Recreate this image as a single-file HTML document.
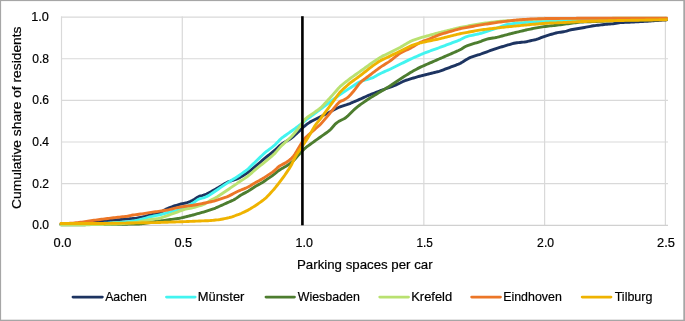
<!DOCTYPE html>
<html><head><meta charset="utf-8"><style>
html,body{margin:0;padding:0;background:#fff;}
body{width:685px;height:321px;overflow:hidden;}
svg{display:block;will-change:transform;}
text{font-family:"Liberation Sans",sans-serif;fill:#000;stroke:#000;stroke-width:0.2px;}
</style></head><body>
<svg width="685" height="321" viewBox="0 0 685 321">
<rect x="0" y="0" width="685" height="321" fill="#fff"/>
<g stroke="#D9D9D9" stroke-width="1.2" fill="none">
<line x1="61" y1="17.10" x2="668" y2="17.10"/>
<line x1="61" y1="58.74" x2="668" y2="58.74"/>
<line x1="61" y1="100.38" x2="668" y2="100.38"/>
<line x1="61" y1="142.02" x2="668" y2="142.02"/>
<line x1="61" y1="183.66" x2="668" y2="183.66"/>
<line x1="61.50" y1="16.5" x2="61.50" y2="225.30"/>
<line x1="182.28" y1="16.5" x2="182.28" y2="225.30"/>
<line x1="303.06" y1="16.5" x2="303.06" y2="225.30"/>
<line x1="423.84" y1="16.5" x2="423.84" y2="225.30"/>
<line x1="544.62" y1="16.5" x2="544.62" y2="225.30"/>
<line x1="665.40" y1="16.5" x2="665.40" y2="225.30"/>
</g>
<line x1="61" y1="225.30" x2="668" y2="225.30" stroke="#D0D0D0" stroke-width="1.3"/>
<g fill="none" stroke-width="2.9" stroke-linejoin="round" stroke-linecap="round">
<polyline points="61.0,224.30 62.5,224.21 64.0,224.13 65.5,224.04 67.0,223.95 68.5,223.87 70.0,223.78 71.5,223.69 73.0,223.61 74.5,223.52 76.0,223.43 77.5,223.34 79.0,223.25 80.5,223.13 82.0,223.00 83.5,222.85 85.0,222.70 86.5,222.55 88.0,222.40 89.5,222.25 91.0,222.10 92.5,221.95 94.0,221.80 95.5,221.65 97.0,221.50 98.5,221.35 100.0,221.21 101.5,221.08 103.0,220.96 104.5,220.84 106.0,220.72 107.5,220.60 109.0,220.48 110.5,220.36 112.0,220.24 113.5,220.12 115.0,220.00 116.5,219.88 118.0,219.76 119.5,219.64 121.0,219.52 122.5,219.40 124.0,219.28 125.5,219.16 127.0,219.04 128.5,218.92 130.0,218.80 131.5,218.67 133.0,218.55 134.5,218.41 136.0,218.24 137.5,217.99 139.0,217.70 140.5,217.40 142.0,217.09 143.5,216.77 145.0,216.40 146.5,215.99 148.0,215.57 149.5,215.18 151.0,214.83 152.5,214.53 154.0,214.24 155.5,213.95 157.0,213.67 158.5,213.34 160.0,212.82 161.5,211.98 163.0,210.98 164.5,210.00 166.0,209.18 167.5,208.51 169.0,207.91 170.5,207.32 172.0,206.75 173.5,206.22 175.0,205.74 176.5,205.28 178.0,204.84 179.5,204.39 181.0,203.98 182.5,203.63 184.0,203.33 185.5,203.00 187.0,202.61 188.5,202.17 190.0,201.62 191.5,200.92 193.0,200.10 194.5,199.22 196.0,198.26 197.5,197.26 199.0,196.41 200.5,195.89 202.0,195.57 203.5,195.21 205.0,194.70 206.5,194.03 208.0,193.29 209.5,192.52 211.0,191.71 212.5,190.88 214.0,190.04 215.5,189.19 217.0,188.31 218.5,187.43 220.0,186.54 221.5,185.65 223.0,184.76 224.5,183.87 226.0,183.00 227.5,182.20 229.0,181.55 230.5,181.01 232.0,180.52 233.5,180.04 235.0,179.56 236.5,179.05 238.0,178.45 239.5,177.67 241.0,176.79 242.5,175.89 244.0,174.99 245.5,174.07 247.0,173.08 248.5,171.97 250.0,170.77 251.5,169.54 253.0,168.30 254.5,167.06 256.0,165.82 257.5,164.55 259.0,163.28 260.5,162.00 262.0,160.72 263.5,159.44 265.0,158.18 266.5,156.95 268.0,155.75 269.5,154.55 271.0,153.35 272.5,152.15 274.0,150.91 275.5,149.59 277.0,148.20 278.5,146.80 280.0,145.45 281.5,144.27 283.0,143.27 284.5,142.35 286.0,141.46 287.5,140.56 289.0,139.66 290.5,138.72 292.0,137.65 293.5,136.40 295.0,135.03 296.5,133.64 298.0,132.25 299.5,130.83 301.0,129.38 302.5,127.92 304.0,126.53 305.5,125.30 307.0,124.18 308.5,123.11 310.0,122.12 311.5,121.27 313.0,120.50 314.5,119.75 316.0,119.00 317.5,118.25 319.0,117.50 320.5,116.75 322.0,116.00 323.5,115.25 325.0,114.50 326.5,113.75 328.0,113.00 329.5,112.22 331.0,111.42 332.5,110.58 334.0,109.74 335.5,108.94 337.0,108.21 338.5,107.53 340.0,106.90 341.5,106.31 343.0,105.81 344.5,105.35 346.0,104.91 347.5,104.43 349.0,103.88 350.5,103.28 352.0,102.64 353.5,102.01 355.0,101.37 356.5,100.72 358.0,100.07 359.5,99.41 361.0,98.75 362.5,98.07 364.0,97.40 365.5,96.73 367.0,96.05 368.5,95.38 370.0,94.74 371.5,94.14 373.0,93.56 374.5,92.99 376.0,92.42 377.5,91.85 379.0,91.28 380.5,90.71 382.0,90.14 383.5,89.57 385.0,89.01 386.5,88.46 388.0,87.92 389.5,87.38 391.0,86.84 392.5,86.30 394.0,85.73 395.5,85.10 397.0,84.41 398.5,83.68 400.0,82.95 401.5,82.22 403.0,81.49 404.5,80.82 406.0,80.25 407.5,79.77 409.0,79.33 410.5,78.89 412.0,78.45 413.5,78.01 415.0,77.57 416.5,77.13 418.0,76.69 419.5,76.26 421.0,75.86 422.5,75.48 424.0,75.10 425.5,74.73 427.0,74.35 428.5,73.98 430.0,73.60 431.5,73.23 433.0,72.85 434.5,72.47 436.0,72.10 437.5,71.72 439.0,71.32 440.5,70.86 442.0,70.34 443.5,69.79 445.0,69.22 446.5,68.66 448.0,68.10 449.5,67.54 451.0,66.97 452.5,66.41 454.0,65.85 455.5,65.29 457.0,64.72 458.5,64.14 460.0,63.46 461.5,62.63 463.0,61.71 464.5,60.76 466.0,59.82 467.5,58.90 469.0,58.08 470.5,57.43 472.0,56.91 473.5,56.43 475.0,55.95 476.5,55.47 478.0,54.99 479.5,54.51 481.0,54.00 482.5,53.47 484.0,52.92 485.5,52.37 487.0,51.82 488.5,51.26 490.0,50.71 491.5,50.16 493.0,49.61 494.5,49.06 496.0,48.54 497.5,48.07 499.0,47.62 500.5,47.18 502.0,46.74 503.5,46.29 505.0,45.85 506.5,45.41 508.0,44.97 509.5,44.53 511.0,44.09 512.5,43.66 514.0,43.27 515.5,42.97 517.0,42.76 518.5,42.60 520.0,42.44 521.5,42.28 523.0,42.12 524.5,41.95 526.0,41.73 527.5,41.45 529.0,41.12 530.5,40.78 532.0,40.44 533.5,40.10 535.0,39.75 536.5,39.34 538.0,38.85 539.5,38.29 541.0,37.72 542.5,37.16 544.0,36.60 545.5,36.08 547.0,35.60 548.5,35.14 550.0,34.69 551.5,34.24 553.0,33.79 554.5,33.36 556.0,32.99 557.5,32.70 559.0,32.44 560.5,32.20 562.0,31.95 563.5,31.70 565.0,31.42 566.5,31.08 568.0,30.65 569.5,30.19 571.0,29.77 572.5,29.45 574.0,29.20 575.5,28.97 577.0,28.74 578.5,28.51 580.0,28.28 581.5,28.04 583.0,27.77 584.5,27.48 586.0,27.19 587.5,26.89 589.0,26.59 590.5,26.30 592.0,26.03 593.5,25.80 595.0,25.61 596.5,25.43 598.0,25.25 599.5,25.07 601.0,24.89 602.5,24.72 604.0,24.54 605.5,24.38 607.0,24.24 608.5,24.12 610.0,24.01 611.5,23.89 613.0,23.72 614.5,23.49 616.0,23.23 617.5,22.96 619.0,22.74 620.5,22.59 622.0,22.51 623.5,22.44 625.0,22.39 626.5,22.33 628.0,22.27 629.5,22.22 631.0,22.16 632.5,22.09 634.0,22.01 635.5,21.92 637.0,21.83 638.5,21.74 640.0,21.65 641.5,21.56 643.0,21.46 644.5,21.37 646.0,21.28 647.5,21.18 649.0,21.07 650.5,20.97 652.0,20.87 653.5,20.76 655.0,20.66 656.5,20.56 658.0,20.46 659.5,20.36 661.0,20.26 662.5,20.16 664.0,20.06 665.5,19.98 666.5,19.90" stroke="#1D3461"/>
<polyline points="61.0,224.50 62.5,224.46 64.0,224.42 65.5,224.38 67.0,224.35 68.5,224.31 70.0,224.27 71.5,224.23 73.0,224.19 74.5,224.15 76.0,224.12 77.5,224.08 79.0,224.04 80.5,224.00 82.0,223.96 83.5,223.92 85.0,223.88 86.5,223.85 88.0,223.81 89.5,223.77 91.0,223.73 92.5,223.69 94.0,223.65 95.5,223.62 97.0,223.58 98.5,223.54 100.0,223.49 101.5,223.42 103.0,223.35 104.5,223.27 106.0,223.20 107.5,223.12 109.0,223.05 110.5,222.97 112.0,222.89 113.5,222.79 115.0,222.67 116.5,222.56 118.0,222.45 119.5,222.34 121.0,222.22 122.5,222.10 124.0,221.98 125.5,221.86 127.0,221.74 128.5,221.61 130.0,221.46 131.5,221.27 133.0,221.05 134.5,220.82 136.0,220.55 137.5,220.22 139.0,219.85 140.5,219.47 142.0,219.10 143.5,218.71 145.0,218.29 146.5,217.85 148.0,217.41 149.5,216.99 151.0,216.62 152.5,216.30 154.0,216.00 155.5,215.70 157.0,215.40 158.5,215.09 160.0,214.76 161.5,214.37 163.0,213.95 164.5,213.53 166.0,213.11 167.5,212.68 169.0,212.26 170.5,211.84 172.0,211.44 173.5,211.09 175.0,210.81 176.5,210.56 178.0,210.29 179.5,209.93 181.0,209.38 182.5,208.66 184.0,207.88 185.5,207.09 187.0,206.29 188.5,205.48 190.0,204.66 191.5,203.82 193.0,202.93 194.5,201.96 196.0,200.90 197.5,199.86 199.0,199.01 200.5,198.49 202.0,198.17 203.5,197.81 205.0,197.30 206.5,196.63 208.0,195.87 209.5,195.03 211.0,194.07 212.5,193.04 214.0,192.00 215.5,190.97 217.0,189.95 218.5,188.93 220.0,187.92 221.5,186.90 223.0,185.88 224.5,184.87 226.0,183.86 227.5,182.86 229.0,181.89 230.5,180.95 232.0,180.02 233.5,179.09 235.0,178.16 236.5,177.22 238.0,176.25 239.5,175.23 241.0,174.17 242.5,173.11 244.0,172.04 245.5,170.96 247.0,169.79 248.5,168.48 250.0,167.06 251.5,165.60 253.0,164.13 254.5,162.67 256.0,161.21 257.5,159.77 259.0,158.33 260.5,156.89 262.0,155.46 263.5,154.04 265.0,152.68 266.5,151.45 268.0,150.29 269.5,149.17 271.0,148.05 272.5,146.92 274.0,145.70 275.5,144.32 277.0,142.76 278.5,141.15 280.0,139.60 281.5,138.23 283.0,137.06 284.5,135.99 286.0,134.94 287.5,133.90 289.0,132.85 290.5,131.80 292.0,130.74 293.5,129.65 295.0,128.56 296.5,127.46 298.0,126.36 299.5,125.22 301.0,124.03 302.5,122.80 304.0,121.56 305.5,120.36 307.0,119.21 308.5,118.09 310.0,116.97 311.5,115.85 313.0,114.73 314.5,113.61 316.0,112.49 317.5,111.37 319.0,110.25 320.5,109.12 322.0,108.00 323.5,106.87 325.0,105.75 326.5,104.63 328.0,103.50 329.5,102.38 331.0,101.25 332.5,100.13 334.0,99.00 335.5,97.88 337.0,96.75 338.5,95.63 340.0,94.55 341.5,93.53 343.0,92.55 344.5,91.58 346.0,90.60 347.5,89.63 349.0,88.65 350.5,87.67 352.0,86.70 353.5,85.72 355.0,84.75 356.5,83.78 358.0,82.82 359.5,81.97 361.0,81.31 362.5,80.81 364.0,80.38 365.5,79.96 367.0,79.54 368.5,79.12 370.0,78.69 371.5,78.20 373.0,77.59 374.5,76.81 376.0,75.95 377.5,75.07 379.0,74.22 380.5,73.44 382.0,72.74 383.5,72.08 385.0,71.43 386.5,70.78 388.0,70.12 389.5,69.45 391.0,68.74 392.5,68.01 394.0,67.27 395.5,66.53 397.0,65.79 398.5,65.04 400.0,64.30 401.5,63.56 403.0,62.83 404.5,62.09 406.0,61.35 407.5,60.62 409.0,59.88 410.5,59.16 412.0,58.47 413.5,57.80 415.0,57.15 416.5,56.49 418.0,55.84 419.5,55.19 421.0,54.53 422.5,53.89 424.0,53.28 425.5,52.69 427.0,52.13 428.5,51.56 430.0,51.01 431.5,50.46 433.0,49.92 434.5,49.38 436.0,48.84 437.5,48.30 439.0,47.76 440.5,47.21 442.0,46.65 443.5,46.09 445.0,45.52 446.5,44.96 448.0,44.40 449.5,43.84 451.0,43.27 452.5,42.71 454.0,42.15 455.5,41.59 457.0,41.02 458.5,40.45 460.0,39.80 461.5,39.06 463.0,38.25 464.5,37.46 466.0,36.78 467.5,36.31 469.0,35.95 470.5,35.63 472.0,35.30 473.5,34.98 475.0,34.65 476.5,34.33 478.0,34.00 479.5,33.66 481.0,33.28 482.5,32.84 484.0,32.37 485.5,31.88 487.0,31.40 488.5,30.92 490.0,30.43 491.5,29.95 493.0,29.47 494.5,28.98 496.0,28.46 497.5,27.91 499.0,27.34 500.5,26.76 502.0,26.18 503.5,25.61 505.0,25.12 506.5,24.75 508.0,24.47 509.5,24.23 511.0,23.99 512.5,23.75 514.0,23.54 515.5,23.35 517.0,23.20 518.5,23.06 520.0,22.93 521.5,22.80 523.0,22.67 524.5,22.54 526.0,22.42 527.5,22.31 529.0,22.22 530.5,22.14 532.0,22.06 533.5,21.98 535.0,21.90 536.5,21.82 538.0,21.75 539.5,21.67 541.0,21.59 542.5,21.52 544.0,21.44 545.5,21.37 547.0,21.31 548.5,21.26 550.0,21.23 551.5,21.20 553.0,21.17 554.5,21.14 556.0,21.10 557.5,21.07 559.0,21.04 560.5,21.01 562.0,20.98 563.5,20.95 565.0,20.92 566.5,20.88 568.0,20.85 569.5,20.82 571.0,20.79 572.5,20.76 574.0,20.73 575.5,20.69 577.0,20.66 578.5,20.63 580.0,20.60 581.5,20.56 583.0,20.52 584.5,20.48 586.0,20.44 587.5,20.39 589.0,20.35 590.5,20.31 592.0,20.27 593.5,20.23 595.0,20.19 596.5,20.15 598.0,20.11 599.5,20.06 601.0,20.02 602.5,19.98 604.0,19.94 605.5,19.90 607.0,19.86 608.5,19.82 610.0,19.77 611.5,19.73 613.0,19.69 614.5,19.65 616.0,19.61 617.5,19.57 619.0,19.53 620.5,19.50 622.0,19.47 623.5,19.45 625.0,19.42 626.5,19.40 628.0,19.38 629.5,19.36 631.0,19.33 632.5,19.31 634.0,19.29 635.5,19.27 637.0,19.24 638.5,19.22 640.0,19.20 641.5,19.18 643.0,19.15 644.5,19.13 646.0,19.11 647.5,19.09 649.0,19.06 650.5,19.04 652.0,19.02 653.5,19.00 655.0,18.97 656.5,18.95 658.0,18.93 659.5,18.91 661.0,18.88 662.5,18.86 664.0,18.84 665.5,18.82 666.5,18.80" stroke="#42F4F0"/>
<polyline points="61.0,224.80 62.5,224.79 64.0,224.78 65.5,224.78 67.0,224.77 68.5,224.76 70.0,224.75 71.5,224.75 73.0,224.74 74.5,224.73 76.0,224.72 77.5,224.72 79.0,224.71 80.5,224.70 82.0,224.69 83.5,224.68 85.0,224.68 86.5,224.67 88.0,224.66 89.5,224.65 91.0,224.65 92.5,224.64 94.0,224.63 95.5,224.62 97.0,224.62 98.5,224.61 100.0,224.59 101.5,224.58 103.0,224.55 104.5,224.53 106.0,224.51 107.5,224.49 109.0,224.47 110.5,224.44 112.0,224.42 113.5,224.40 115.0,224.38 116.5,224.35 118.0,224.33 119.5,224.31 121.0,224.28 122.5,224.26 124.0,224.24 125.5,224.22 127.0,224.20 128.5,224.17 130.0,224.15 131.5,224.13 133.0,224.10 134.5,224.08 136.0,224.06 137.5,224.03 139.0,223.98 140.5,223.87 142.0,223.69 143.5,223.47 145.0,223.25 146.5,223.02 148.0,222.80 149.5,222.56 151.0,222.29 152.5,222.00 154.0,221.72 155.5,221.49 157.0,221.31 158.5,221.15 160.0,220.98 161.5,220.79 163.0,220.58 164.5,220.37 166.0,220.16 167.5,219.95 169.0,219.74 170.5,219.53 172.0,219.32 173.5,219.11 175.0,218.90 176.5,218.69 178.0,218.47 179.5,218.23 181.0,217.93 182.5,217.58 184.0,217.22 185.5,216.85 187.0,216.48 188.5,216.11 190.0,215.74 191.5,215.37 193.0,214.98 194.5,214.57 196.0,214.15 197.5,213.72 199.0,213.30 200.5,212.87 202.0,212.45 203.5,212.02 205.0,211.57 206.5,211.10 208.0,210.61 209.5,210.11 211.0,209.62 212.5,209.12 214.0,208.60 215.5,208.03 217.0,207.39 218.5,206.72 220.0,206.05 221.5,205.38 223.0,204.70 224.5,204.03 226.0,203.35 227.5,202.68 229.0,202.00 230.5,201.32 232.0,200.65 233.5,199.95 235.0,199.14 236.5,198.16 238.0,197.08 239.5,196.00 241.0,195.01 242.5,194.16 244.0,193.38 245.5,192.60 247.0,191.79 248.5,190.90 250.0,189.94 251.5,188.97 253.0,188.00 254.5,187.03 256.0,186.09 257.5,185.21 259.0,184.39 260.5,183.58 262.0,182.71 263.5,181.75 265.0,180.72 266.5,179.68 268.0,178.65 269.5,177.61 271.0,176.57 272.5,175.52 274.0,174.42 275.5,173.19 277.0,171.88 278.5,170.67 280.0,169.67 281.5,168.77 283.0,167.90 284.5,167.03 286.0,166.15 287.5,165.22 289.0,164.21 290.5,163.12 292.0,161.96 293.5,160.65 295.0,159.05 296.5,157.28 298.0,155.57 299.5,153.96 301.0,152.33 302.5,150.67 304.0,149.13 305.5,147.82 307.0,146.68 308.5,145.58 310.0,144.50 311.5,143.41 313.0,142.32 314.5,141.24 316.0,140.15 317.5,139.07 319.0,138.01 320.5,136.95 322.0,135.90 323.5,134.85 325.0,133.80 326.5,132.75 328.0,131.67 329.5,130.45 331.0,128.96 332.5,127.24 334.0,125.47 335.5,123.86 337.0,122.59 338.5,121.60 340.0,120.73 341.5,119.95 343.0,119.26 344.5,118.52 346.0,117.49 347.5,116.17 349.0,114.70 350.5,113.20 352.0,111.71 353.5,110.24 355.0,108.86 356.5,107.59 358.0,106.39 359.5,105.24 361.0,104.15 362.5,103.10 364.0,102.08 365.5,101.06 367.0,100.04 368.5,99.03 370.0,98.04 371.5,97.11 373.0,96.20 374.5,95.30 376.0,94.40 377.5,93.50 379.0,92.60 380.5,91.70 382.0,90.80 383.5,89.90 385.0,89.00 386.5,88.10 388.0,87.19 389.5,86.26 391.0,85.29 392.5,84.27 394.0,83.24 395.5,82.21 397.0,81.18 398.5,80.17 400.0,79.19 401.5,78.23 403.0,77.28 404.5,76.33 406.0,75.39 407.5,74.44 409.0,73.50 410.5,72.57 412.0,71.69 413.5,70.85 415.0,70.03 416.5,69.21 418.0,68.40 419.5,67.62 421.0,66.89 422.5,66.22 424.0,65.56 425.5,64.91 427.0,64.25 428.5,63.60 430.0,62.95 431.5,62.30 433.0,61.65 434.5,60.99 436.0,60.34 437.5,59.69 439.0,59.04 440.5,58.38 442.0,57.73 443.5,57.08 445.0,56.42 446.5,55.77 448.0,55.12 449.5,54.47 451.0,53.81 452.5,53.16 454.0,52.51 455.5,51.86 457.0,51.20 458.5,50.53 460.0,49.79 461.5,48.93 463.0,48.00 464.5,47.08 466.0,46.27 467.5,45.65 469.0,45.15 470.5,44.67 472.0,44.19 473.5,43.72 475.0,43.24 476.5,42.77 478.0,42.29 479.5,41.80 481.0,41.29 482.5,40.73 484.0,40.15 485.5,39.58 487.0,39.10 488.5,38.75 490.0,38.49 491.5,38.27 493.0,38.04 494.5,37.81 496.0,37.54 497.5,37.19 499.0,36.80 500.5,36.40 502.0,36.00 503.5,35.60 505.0,35.20 506.5,34.80 508.0,34.40 509.5,34.00 511.0,33.61 512.5,33.24 514.0,32.88 515.5,32.52 517.0,32.16 518.5,31.80 520.0,31.44 521.5,31.08 523.0,30.72 524.5,30.36 526.0,30.02 527.5,29.69 529.0,29.38 530.5,29.07 532.0,28.75 533.5,28.44 535.0,28.14 536.5,27.85 538.0,27.60 539.5,27.36 541.0,27.14 542.5,26.91 544.0,26.68 545.5,26.46 547.0,26.25 548.5,26.07 550.0,25.91 551.5,25.75 553.0,25.59 554.5,25.44 556.0,25.28 557.5,25.11 559.0,24.92 560.5,24.73 562.0,24.53 563.5,24.33 565.0,24.13 566.5,23.93 568.0,23.73 569.5,23.52 571.0,23.32 572.5,23.12 574.0,22.91 575.5,22.71 577.0,22.51 578.5,22.31 580.0,22.15 581.5,22.05 583.0,21.98 584.5,21.92 586.0,21.86 587.5,21.80 589.0,21.74 590.5,21.68 592.0,21.62 593.5,21.56 595.0,21.50 596.5,21.44 598.0,21.38 599.5,21.32 601.0,21.26 602.5,21.20 604.0,21.14 605.5,21.08 607.0,21.02 608.5,20.96 610.0,20.90 611.5,20.84 613.0,20.78 614.5,20.72 616.0,20.66 617.5,20.60 619.0,20.54 620.5,20.50 622.0,20.46 623.5,20.42 625.0,20.39 626.5,20.36 628.0,20.33 629.5,20.30 631.0,20.26 632.5,20.23 634.0,20.20 635.5,20.17 637.0,20.13 638.5,20.10 640.0,20.07 641.5,20.04 643.0,20.01 644.5,19.97 646.0,19.94 647.5,19.91 649.0,19.88 650.5,19.84 652.0,19.81 653.5,19.78 655.0,19.75 656.5,19.72 658.0,19.68 659.5,19.65 661.0,19.62 662.5,19.59 664.0,19.55 665.5,19.53 666.5,19.50" stroke="#4D7D2F"/>
<polyline points="61.0,224.90 62.5,224.89 64.0,224.88 65.5,224.87 67.0,224.85 68.5,224.84 70.0,224.83 71.5,224.82 73.0,224.81 74.5,224.80 76.0,224.78 77.5,224.77 79.0,224.76 80.5,224.75 82.0,224.74 83.5,224.73 85.0,224.72 86.5,224.70 88.0,224.69 89.5,224.68 91.0,224.67 92.5,224.66 94.0,224.65 95.5,224.63 97.0,224.62 98.5,224.61 100.0,224.58 101.5,224.54 103.0,224.48 104.5,224.42 106.0,224.36 107.5,224.30 109.0,224.24 110.5,224.18 112.0,224.12 113.5,224.06 115.0,224.00 116.5,223.94 118.0,223.88 119.5,223.80 121.0,223.71 122.5,223.60 124.0,223.48 125.5,223.36 127.0,223.24 128.5,223.12 130.0,222.99 131.5,222.85 133.0,222.70 134.5,222.54 136.0,222.35 137.5,222.09 139.0,221.80 140.5,221.50 142.0,221.20 143.5,220.90 145.0,220.60 146.5,220.30 148.0,220.00 149.5,219.73 151.0,219.49 152.5,219.28 154.0,219.08 155.5,218.88 157.0,218.69 158.5,218.47 160.0,218.17 161.5,217.73 163.0,217.21 164.5,216.67 166.0,216.13 167.5,215.58 169.0,215.04 170.5,214.50 172.0,213.96 173.5,213.41 175.0,212.87 176.5,212.32 178.0,211.78 179.5,211.23 181.0,210.67 182.5,210.13 184.0,209.61 185.5,209.18 187.0,208.84 188.5,208.56 190.0,208.28 191.5,208.00 193.0,207.69 194.5,207.31 196.0,206.88 197.5,206.42 199.0,205.95 200.5,205.49 202.0,205.01 203.5,204.48 205.0,203.82 206.5,202.95 208.0,201.97 209.5,200.98 211.0,200.07 212.5,199.32 214.0,198.64 215.5,197.87 217.0,196.98 218.5,196.02 220.0,195.04 221.5,194.05 223.0,193.03 224.5,192.01 226.0,190.99 227.5,189.96 229.0,188.94 230.5,187.92 232.0,186.89 233.5,185.87 235.0,184.85 236.5,183.83 238.0,182.81 239.5,181.82 241.0,180.83 242.5,179.85 244.0,178.86 245.5,177.86 247.0,176.80 248.5,175.62 250.0,174.35 251.5,173.05 253.0,171.75 254.5,170.45 256.0,169.17 257.5,167.92 259.0,166.70 260.5,165.48 262.0,164.27 263.5,163.05 265.0,161.83 266.5,160.59 268.0,159.33 269.5,158.07 271.0,156.81 272.5,155.53 274.0,154.16 275.5,152.62 277.0,150.90 278.5,149.12 280.0,147.37 281.5,145.77 283.0,144.33 284.5,142.96 286.0,141.61 287.5,140.27 289.0,138.91 290.5,137.52 292.0,136.01 293.5,134.32 295.0,132.53 296.5,130.72 298.0,128.89 299.5,126.97 301.0,124.88 302.5,122.67 304.0,120.55 305.5,118.80 307.0,117.50 308.5,116.42 310.0,115.40 311.5,114.38 313.0,113.36 314.5,112.34 316.0,111.32 317.5,110.29 319.0,109.19 320.5,107.92 322.0,106.46 323.5,104.89 325.0,103.30 326.5,101.71 328.0,100.11 329.5,98.49 331.0,96.83 332.5,95.12 334.0,93.40 335.5,91.68 337.0,89.95 338.5,88.26 340.0,86.70 341.5,85.35 343.0,84.13 344.5,82.95 346.0,81.76 347.5,80.58 349.0,79.41 350.5,78.28 352.0,77.19 353.5,76.12 355.0,75.05 356.5,73.98 358.0,72.92 359.5,71.85 361.0,70.78 362.5,69.70 364.0,68.62 365.5,67.54 367.0,66.46 368.5,65.38 370.0,64.30 371.5,63.23 373.0,62.18 374.5,61.14 376.0,60.12 377.5,59.11 379.0,58.13 380.5,57.23 382.0,56.42 383.5,55.67 385.0,54.93 386.5,54.18 388.0,53.44 389.5,52.70 391.0,51.96 392.5,51.21 394.0,50.47 395.5,49.73 397.0,48.98 398.5,48.23 400.0,47.45 401.5,46.61 403.0,45.73 404.5,44.85 406.0,43.96 407.5,43.08 409.0,42.21 410.5,41.40 412.0,40.70 413.5,40.13 415.0,39.61 416.5,39.09 418.0,38.59 419.5,38.10 421.0,37.64 422.5,37.21 424.0,36.80 425.5,36.39 427.0,35.98 428.5,35.56 430.0,35.15 431.5,34.74 433.0,34.33 434.5,33.91 436.0,33.50 437.5,33.09 439.0,32.68 440.5,32.29 442.0,31.91 443.5,31.54 445.0,31.18 446.5,30.81 448.0,30.44 449.5,30.07 451.0,29.70 452.5,29.34 454.0,28.97 455.5,28.60 457.0,28.24 458.5,27.87 460.0,27.53 461.5,27.22 463.0,26.93 464.5,26.65 466.0,26.36 467.5,26.08 469.0,25.79 470.5,25.51 472.0,25.22 473.5,24.94 475.0,24.65 476.5,24.37 478.0,24.08 479.5,23.82 481.0,23.59 482.5,23.39 484.0,23.20 485.5,23.01 487.0,22.82 488.5,22.64 490.0,22.45 491.5,22.26 493.0,22.07 494.5,21.89 496.0,21.70 497.5,21.52 499.0,21.34 500.5,21.20 502.0,21.09 503.5,21.01 505.0,20.93 506.5,20.84 508.0,20.76 509.5,20.68 511.0,20.59 512.5,20.51 514.0,20.43 515.5,20.35 517.0,20.27 518.5,20.18 520.0,20.10 521.5,20.02 523.0,19.94 524.5,19.85 526.0,19.77 527.5,19.69 529.0,19.61 530.5,19.52 532.0,19.44 533.5,19.36 535.0,19.28 536.5,19.19 538.0,19.11 539.5,19.04 541.0,18.99 542.5,18.96 544.0,18.94 545.5,18.92 547.0,18.89 548.5,18.87 550.0,18.85 551.5,18.83 553.0,18.81 554.5,18.78 556.0,18.76 557.5,18.74 559.0,18.72 560.5,18.69 562.0,18.67 563.5,18.65 565.0,18.62 566.5,18.60 568.0,18.58 569.5,18.56 571.0,18.53 572.5,18.51 574.0,18.49 575.5,18.47 577.0,18.45 578.5,18.42 580.0,18.41 581.5,18.40 583.0,18.39 584.5,18.39 586.0,18.39 587.5,18.38 589.0,18.38 590.5,18.38 592.0,18.37 593.5,18.37 595.0,18.37 596.5,18.36 598.0,18.36 599.5,18.35 601.0,18.35 602.5,18.35 604.0,18.34 605.5,18.34 607.0,18.34 608.5,18.33 610.0,18.33 611.5,18.33 613.0,18.32 614.5,18.32 616.0,18.32 617.5,18.31 619.0,18.31 620.5,18.31 622.0,18.30 623.5,18.30 625.0,18.30 626.5,18.29 628.0,18.29 629.5,18.29 631.0,18.28 632.5,18.28 634.0,18.28 635.5,18.27 637.0,18.27 638.5,18.26 640.0,18.26 641.5,18.26 643.0,18.25 644.5,18.25 646.0,18.25 647.5,18.24 649.0,18.24 650.5,18.24 652.0,18.23 653.5,18.23 655.0,18.23 656.5,18.22 658.0,18.22 659.5,18.22 661.0,18.21 662.5,18.21 664.0,18.21 665.5,18.20 666.5,18.20" stroke="#B9E170"/>
<polyline points="61.0,223.60 62.5,223.55 64.0,223.49 65.5,223.44 67.0,223.38 68.5,223.33 70.0,223.27 71.5,223.19 73.0,223.08 74.5,222.95 76.0,222.80 77.5,222.65 79.0,222.49 80.5,222.30 82.0,222.08 83.5,221.84 85.0,221.60 86.5,221.36 88.0,221.12 89.5,220.89 91.0,220.68 92.5,220.48 94.0,220.28 95.5,220.09 97.0,219.89 98.5,219.69 100.0,219.50 101.5,219.31 103.0,219.11 104.5,218.92 106.0,218.72 107.5,218.53 109.0,218.33 110.5,218.14 112.0,217.96 113.5,217.78 115.0,217.60 116.5,217.42 118.0,217.24 119.5,217.07 121.0,216.90 122.5,216.75 124.0,216.60 125.5,216.44 127.0,216.25 128.5,215.98 130.0,215.63 131.5,215.30 133.0,215.05 134.5,214.84 136.0,214.65 137.5,214.45 139.0,214.25 140.5,214.06 142.0,213.86 143.5,213.64 145.0,213.40 146.5,213.14 148.0,212.87 149.5,212.61 151.0,212.38 152.5,212.18 154.0,211.98 155.5,211.78 157.0,211.59 158.5,211.39 160.0,211.18 161.5,210.96 163.0,210.72 164.5,210.48 166.0,210.23 167.5,209.98 169.0,209.68 170.5,209.34 172.0,208.97 173.5,208.59 175.0,208.21 176.5,207.85 178.0,207.53 179.5,207.25 181.0,206.98 182.5,206.73 184.0,206.48 185.5,206.25 187.0,206.05 188.5,205.86 190.0,205.67 191.5,205.47 193.0,205.27 194.5,205.02 196.0,204.75 197.5,204.46 199.0,204.16 200.5,203.87 202.0,203.57 203.5,203.27 205.0,202.97 206.5,202.66 208.0,202.35 209.5,202.05 211.0,201.74 212.5,201.42 214.0,201.08 215.5,200.68 217.0,200.21 218.5,199.71 220.0,199.21 221.5,198.70 223.0,198.19 224.5,197.68 226.0,197.16 227.5,196.59 229.0,195.92 230.5,195.17 232.0,194.38 233.5,193.59 235.0,192.79 236.5,192.01 238.0,191.27 239.5,190.62 241.0,190.01 242.5,189.41 244.0,188.81 245.5,188.20 247.0,187.53 248.5,186.75 250.0,185.89 251.5,185.00 253.0,184.10 254.5,183.21 256.0,182.34 257.5,181.50 259.0,180.69 260.5,179.88 262.0,179.03 263.5,178.10 265.0,177.11 266.5,176.12 268.0,175.13 269.5,174.14 271.0,173.14 272.5,172.13 274.0,171.02 275.5,169.68 277.0,168.17 278.5,166.81 280.0,165.79 281.5,164.95 283.0,164.15 284.5,163.35 286.0,162.53 287.5,161.61 289.0,160.49 290.5,159.19 292.0,157.78 293.5,156.13 295.0,154.05 296.5,151.60 298.0,149.01 299.5,146.43 301.0,143.92 302.5,141.52 304.0,139.38 305.5,137.66 307.0,136.24 308.5,134.90 310.0,133.57 311.5,132.25 313.0,130.92 314.5,129.59 316.0,128.28 317.5,126.98 319.0,125.68 320.5,124.24 322.0,122.61 323.5,120.87 325.0,119.10 326.5,117.33 328.0,115.56 329.5,113.76 331.0,111.93 332.5,110.07 334.0,108.20 335.5,106.35 337.0,104.55 338.5,102.91 340.0,101.66 341.5,100.92 343.0,100.34 344.5,99.59 346.0,98.64 347.5,97.57 349.0,96.32 350.5,94.78 352.0,93.05 353.5,91.26 355.0,89.38 356.5,87.38 358.0,85.34 359.5,83.46 361.0,81.91 362.5,80.65 364.0,79.50 365.5,78.38 367.0,77.25 368.5,76.12 370.0,74.99 371.5,73.86 373.0,72.72 374.5,71.58 376.0,70.44 377.5,69.30 379.0,68.19 380.5,67.14 382.0,66.16 383.5,65.21 385.0,64.27 386.5,63.33 388.0,62.38 389.5,61.38 391.0,60.28 392.5,59.11 394.0,57.91 395.5,56.71 397.0,55.51 398.5,54.34 400.0,53.28 401.5,52.44 403.0,51.71 404.5,51.01 406.0,50.31 407.5,49.62 409.0,48.91 410.5,48.17 412.0,47.35 413.5,46.45 415.0,45.52 416.5,44.59 418.0,43.67 419.5,42.81 421.0,42.09 422.5,41.48 424.0,40.92 425.5,40.37 427.0,39.81 428.5,39.25 430.0,38.67 431.5,38.05 433.0,37.41 434.5,36.76 436.0,36.12 437.5,35.48 439.0,34.87 440.5,34.31 442.0,33.84 443.5,33.40 445.0,32.98 446.5,32.55 448.0,32.12 449.5,31.69 451.0,31.27 452.5,30.84 454.0,30.41 455.5,29.98 457.0,29.56 458.5,29.14 460.0,28.75 461.5,28.43 463.0,28.15 464.5,27.87 466.0,27.59 467.5,27.31 469.0,27.04 470.5,26.76 472.0,26.48 473.5,26.20 475.0,25.93 476.5,25.65 478.0,25.37 479.5,25.11 481.0,24.86 482.5,24.63 484.0,24.40 485.5,24.18 487.0,23.95 488.5,23.73 490.0,23.50 491.5,23.27 493.0,23.05 494.5,22.83 496.0,22.60 497.5,22.38 499.0,22.16 500.5,21.95 502.0,21.76 503.5,21.57 505.0,21.39 506.5,21.21 508.0,21.03 509.5,20.84 511.0,20.66 512.5,20.48 514.0,20.30 515.5,20.14 517.0,20.01 518.5,19.89 520.0,19.79 521.5,19.68 523.0,19.57 524.5,19.47 526.0,19.36 527.5,19.26 529.0,19.15 530.5,19.06 532.0,18.98 533.5,18.92 535.0,18.88 536.5,18.83 538.0,18.78 539.5,18.73 541.0,18.68 542.5,18.63 544.0,18.59 545.5,18.54 547.0,18.51 548.5,18.49 550.0,18.48 551.5,18.47 553.0,18.46 554.5,18.45 556.0,18.44 557.5,18.44 559.0,18.43 560.5,18.42 562.0,18.41 563.5,18.40 565.0,18.39 566.5,18.38 568.0,18.37 569.5,18.36 571.0,18.35 572.5,18.35 574.0,18.34 575.5,18.33 577.0,18.32 578.5,18.31 580.0,18.30 581.5,18.30 583.0,18.29 584.5,18.29 586.0,18.29 587.5,18.28 589.0,18.28 590.5,18.28 592.0,18.27 593.5,18.27 595.0,18.27 596.5,18.26 598.0,18.26 599.5,18.25 601.0,18.25 602.5,18.25 604.0,18.24 605.5,18.24 607.0,18.24 608.5,18.23 610.0,18.23 611.5,18.23 613.0,18.22 614.5,18.22 616.0,18.22 617.5,18.21 619.0,18.21 620.5,18.21 622.0,18.20 623.5,18.20 625.0,18.20 626.5,18.19 628.0,18.19 629.5,18.19 631.0,18.18 632.5,18.18 634.0,18.18 635.5,18.17 637.0,18.17 638.5,18.16 640.0,18.16 641.5,18.16 643.0,18.15 644.5,18.15 646.0,18.15 647.5,18.14 649.0,18.14 650.5,18.14 652.0,18.13 653.5,18.13 655.0,18.13 656.5,18.12 658.0,18.12 659.5,18.12 661.0,18.11 662.5,18.11 664.0,18.11 665.5,18.10 666.5,18.10" stroke="#EC7627"/>
<polyline points="61.0,223.50 62.5,223.50 64.0,223.50 65.5,223.50 67.0,223.50 68.5,223.50 70.0,223.50 71.5,223.50 73.0,223.50 74.5,223.50 76.0,223.50 77.5,223.50 79.0,223.50 80.5,223.50 82.0,223.50 83.5,223.50 85.0,223.50 86.5,223.50 88.0,223.50 89.5,223.50 91.0,223.50 92.5,223.50 94.0,223.50 95.5,223.50 97.0,223.50 98.5,223.50 100.0,223.49 101.5,223.47 103.0,223.45 104.5,223.43 106.0,223.40 107.5,223.38 109.0,223.35 110.5,223.33 112.0,223.30 113.5,223.28 115.0,223.25 116.5,223.23 118.0,223.21 119.5,223.18 121.0,223.16 122.5,223.13 124.0,223.11 125.5,223.08 127.0,223.06 128.5,223.03 130.0,223.01 131.5,222.98 133.0,222.96 134.5,222.94 136.0,222.91 137.5,222.89 139.0,222.86 140.5,222.84 142.0,222.81 143.5,222.79 145.0,222.76 146.5,222.74 148.0,222.71 149.5,222.69 151.0,222.67 152.5,222.64 154.0,222.61 155.5,222.58 157.0,222.53 158.5,222.49 160.0,222.44 161.5,222.39 163.0,222.34 164.5,222.30 166.0,222.25 167.5,222.20 169.0,222.15 170.5,222.10 172.0,222.06 173.5,222.01 175.0,221.96 176.5,221.91 178.0,221.86 179.5,221.81 181.0,221.76 182.5,221.70 184.0,221.64 185.5,221.58 187.0,221.52 188.5,221.46 190.0,221.40 191.5,221.34 193.0,221.28 194.5,221.22 196.0,221.16 197.5,221.10 199.0,221.04 200.5,220.98 202.0,220.92 203.5,220.86 205.0,220.80 206.5,220.74 208.0,220.68 209.5,220.60 211.0,220.49 212.5,220.35 214.0,220.20 215.5,220.05 217.0,219.90 218.5,219.74 220.0,219.54 221.5,219.27 223.0,218.97 224.5,218.65 226.0,218.34 227.5,218.02 229.0,217.68 230.5,217.27 232.0,216.79 233.5,216.27 235.0,215.75 236.5,215.22 238.0,214.69 239.5,214.12 241.0,213.49 242.5,212.80 244.0,212.09 245.5,211.38 247.0,210.65 248.5,209.87 250.0,209.00 251.5,208.08 253.0,207.14 254.5,206.20 256.0,205.22 257.5,204.20 259.0,203.14 260.5,202.08 262.0,201.01 263.5,199.92 265.0,198.72 266.5,197.33 268.0,195.77 269.5,194.15 271.0,192.52 272.5,190.88 274.0,189.20 275.5,187.41 277.0,185.50 278.5,183.55 280.0,181.58 281.5,179.61 283.0,177.60 284.5,175.53 286.0,173.35 287.5,171.12 289.0,168.86 290.5,166.46 292.0,163.70 293.5,160.55 295.0,157.45 296.5,154.79 298.0,152.44 299.5,150.19 301.0,148.00 302.5,145.86 304.0,143.70 305.5,141.46 307.0,139.15 308.5,136.80 310.0,134.32 311.5,131.66 313.0,128.93 314.5,126.39 316.0,124.25 317.5,122.39 319.0,120.60 320.5,118.73 322.0,116.75 323.5,114.70 325.0,112.65 326.5,110.59 328.0,108.54 329.5,106.48 331.0,104.42 332.5,102.35 334.0,100.28 335.5,98.21 337.0,96.14 338.5,94.12 340.0,92.26 341.5,90.70 343.0,89.30 344.5,87.95 346.0,86.60 347.5,85.26 349.0,83.94 350.5,82.71 352.0,81.57 353.5,80.48 355.0,79.40 356.5,78.32 358.0,77.24 359.5,76.13 361.0,75.00 362.5,73.84 364.0,72.66 365.5,71.49 367.0,70.31 368.5,69.14 370.0,67.96 371.5,66.81 373.0,65.69 374.5,64.62 376.0,63.57 377.5,62.54 379.0,61.55 380.5,60.66 382.0,59.89 383.5,59.17 385.0,58.48 386.5,57.78 388.0,57.08 389.5,56.37 391.0,55.65 392.5,54.91 394.0,54.17 395.5,53.43 397.0,52.69 398.5,51.94 400.0,51.20 401.5,50.45 403.0,49.70 404.5,48.95 406.0,48.20 407.5,47.45 409.0,46.71 410.5,46.01 412.0,45.41 413.5,44.90 415.0,44.43 416.5,43.97 418.0,43.52 419.5,43.09 421.0,42.71 422.5,42.38 424.0,42.06 425.5,41.75 427.0,41.43 428.5,41.12 430.0,40.80 431.5,40.49 433.0,40.17 434.5,39.85 436.0,39.54 437.5,39.22 439.0,38.90 440.5,38.56 442.0,38.20 443.5,37.82 445.0,37.45 446.5,37.08 448.0,36.70 449.5,36.32 451.0,35.95 452.5,35.58 454.0,35.20 455.5,34.83 457.0,34.45 458.5,34.08 460.0,33.74 461.5,33.43 463.0,33.15 464.5,32.87 466.0,32.59 467.5,32.31 469.0,32.04 470.5,31.76 472.0,31.48 473.5,31.20 475.0,30.93 476.5,30.65 478.0,30.37 479.5,30.12 481.0,29.90 482.5,29.70 484.0,29.52 485.5,29.34 487.0,29.16 488.5,28.98 490.0,28.80 491.5,28.62 493.0,28.44 494.5,28.26 496.0,28.08 497.5,27.90 499.0,27.72 500.5,27.56 502.0,27.40 503.5,27.24 505.0,27.09 506.5,26.93 508.0,26.78 509.5,26.63 511.0,26.47 512.5,26.32 514.0,26.16 515.5,26.01 517.0,25.87 518.5,25.72 520.0,25.57 521.5,25.43 523.0,25.28 524.5,25.14 526.0,24.99 527.5,24.85 529.0,24.70 530.5,24.56 532.0,24.43 533.5,24.30 535.0,24.18 536.5,24.05 538.0,23.93 539.5,23.80 541.0,23.68 542.5,23.55 544.0,23.43 545.5,23.31 547.0,23.21 548.5,23.13 550.0,23.07 551.5,23.02 553.0,22.96 554.5,22.90 556.0,22.84 557.5,22.78 559.0,22.73 560.5,22.67 562.0,22.60 563.5,22.53 565.0,22.45 566.5,22.36 568.0,22.28 569.5,22.19 571.0,22.11 572.5,22.02 574.0,21.94 575.5,21.85 577.0,21.77 578.5,21.69 580.0,21.62 581.5,21.56 583.0,21.52 584.5,21.48 586.0,21.44 587.5,21.39 589.0,21.35 590.5,21.31 592.0,21.27 593.5,21.23 595.0,21.19 596.5,21.15 598.0,21.11 599.5,21.06 601.0,21.02 602.5,20.98 604.0,20.94 605.5,20.90 607.0,20.86 608.5,20.82 610.0,20.77 611.5,20.73 613.0,20.69 614.5,20.65 616.0,20.61 617.5,20.57 619.0,20.53 620.5,20.50 622.0,20.47 623.5,20.44 625.0,20.41 626.5,20.39 628.0,20.36 629.5,20.34 631.0,20.31 632.5,20.28 634.0,20.26 635.5,20.23 637.0,20.21 638.5,20.18 640.0,20.16 641.5,20.13 643.0,20.10 644.5,20.08 646.0,20.05 647.5,20.03 649.0,20.00 650.5,19.98 652.0,19.95 653.5,19.92 655.0,19.90 656.5,19.87 658.0,19.85 659.5,19.82 661.0,19.79 662.5,19.77 664.0,19.74 665.5,19.72 666.5,19.70" stroke="#EFB300"/>
</g>
<line x1="302.4" y1="16.2" x2="302.4" y2="225.3" stroke="#000" stroke-width="2.6"/>
<text x="31.20" y="21.10" font-size="12.8" textLength="17.68" lengthAdjust="spacingAndGlyphs">1.0</text>
<text x="32.20" y="62.74" font-size="12.8" textLength="16.78" lengthAdjust="spacingAndGlyphs">0.8</text>
<text x="32.20" y="104.38" font-size="12.8" textLength="16.78" lengthAdjust="spacingAndGlyphs">0.6</text>
<text x="32.20" y="146.02" font-size="12.8" textLength="16.78" lengthAdjust="spacingAndGlyphs">0.4</text>
<text x="32.20" y="187.66" font-size="12.8" textLength="16.78" lengthAdjust="spacingAndGlyphs">0.2</text>
<text x="32.20" y="229.30" font-size="12.8" textLength="16.78" lengthAdjust="spacingAndGlyphs">0.0</text>
<text x="53.50" y="246.80" font-size="12.8" textLength="17.86" lengthAdjust="spacingAndGlyphs">0.0</text>
<text x="174.40" y="246.80" font-size="12.8" textLength="17.86" lengthAdjust="spacingAndGlyphs">0.5</text>
<text x="295.55" y="246.80" font-size="12.8" textLength="17.32" lengthAdjust="spacingAndGlyphs">1.0</text>
<text x="416.45" y="246.80" font-size="12.8" textLength="16.42" lengthAdjust="spacingAndGlyphs">1.5</text>
<text x="537.10" y="246.80" font-size="12.8" textLength="16.96" lengthAdjust="spacingAndGlyphs">2.0</text>
<text x="657.00" y="246.80" font-size="12.8" textLength="17.86" lengthAdjust="spacingAndGlyphs">2.5</text>
<text x="297.00" y="268.90" font-size="13.3" textLength="135.60" lengthAdjust="spacingAndGlyphs">Parking spaces per car</text>
<text transform="translate(21.30,209.00) rotate(-90)" x="0" y="0" font-size="13.3" textLength="182.50" lengthAdjust="spacingAndGlyphs">Cumulative share of residents</text>
<text x="105.20" y="300.80" font-size="12.8" textLength="41.60" lengthAdjust="spacingAndGlyphs">Aachen</text>
<text x="197.70" y="300.80" font-size="12.8" textLength="46.70" lengthAdjust="spacingAndGlyphs">Münster</text>
<text x="297.70" y="300.80" font-size="12.8" textLength="62.18" lengthAdjust="spacingAndGlyphs">Wiesbaden</text>
<text x="411.20" y="300.80" font-size="12.8" textLength="41.00" lengthAdjust="spacingAndGlyphs">Krefeld</text>
<text x="503.20" y="300.80" font-size="12.8" textLength="58.60" lengthAdjust="spacingAndGlyphs">Eindhoven</text>
<text x="614.70" y="300.80" font-size="12.8" textLength="37.72" lengthAdjust="spacingAndGlyphs">Tilburg</text>
<line x1="73.0" y1="297.1" x2="102.3" y2="297.1" stroke="#1D3461" stroke-width="2.9" stroke-linecap="round"/>
<line x1="166.5" y1="297.1" x2="195.1" y2="297.1" stroke="#42F4F0" stroke-width="2.9" stroke-linecap="round"/>
<line x1="266.0" y1="297.1" x2="294.4" y2="297.1" stroke="#4D7D2F" stroke-width="2.9" stroke-linecap="round"/>
<line x1="379.8" y1="297.1" x2="408.5" y2="297.1" stroke="#B9E170" stroke-width="2.9" stroke-linecap="round"/>
<line x1="471.7" y1="297.1" x2="500.4" y2="297.1" stroke="#EC7627" stroke-width="2.9" stroke-linecap="round"/>
<line x1="582.2" y1="297.1" x2="610.9" y2="297.1" stroke="#EFB300" stroke-width="2.9" stroke-linecap="round"/>
<g fill="#A6A6A6">
<rect x="0" y="0" width="685" height="1.1"/>
<rect x="0" y="0" width="1.1" height="321"/>
<rect x="683.3" y="0" width="1.7" height="321"/>
<rect x="0" y="319.7" width="685" height="1.3"/>
</g>
</svg>
</body></html>
